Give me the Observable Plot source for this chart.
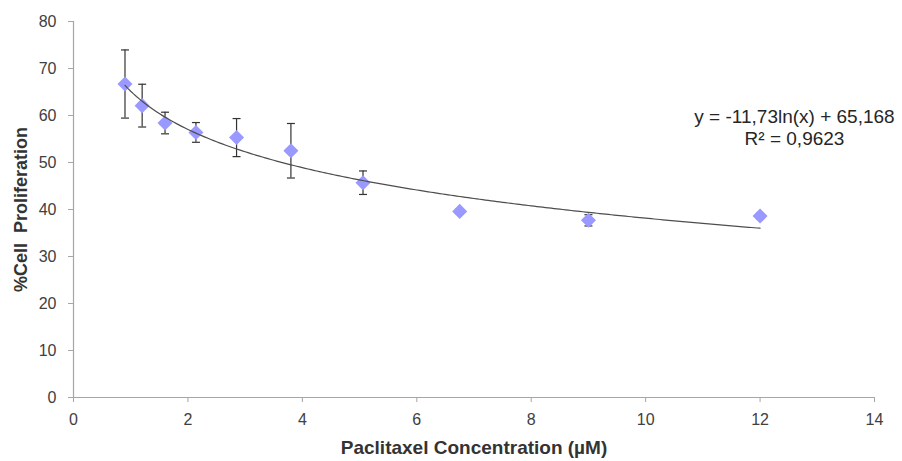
<!DOCTYPE html>
<html>
<head>
<meta charset="utf-8">
<script src="https://cdn.jsdelivr.net/npm/d3@7"></script>
<script src="https://cdn.jsdelivr.net/npm/@observablehq/plot@0.6"></script>
<style>
  html, body { margin: 0; padding: 0; background: #fff; }
</style>
</head>
<body>
<div id="chart"></div>
<script>
// Data
const concentration = [0.9, 1.2, 1.6, 2.14, 2.85, 3.8, 5.06, 6.75, 9, 12];
const proliferation = [66.7, 62.1, 58.4, 56.4, 55.3, 52.5, 45.7, 39.6, 37.7, 38.6];
const errorSD = [7.25, 4.55, 2.3, 2.1, 4.05, 5.8, 2.5, 0.6, 1.2, 0.6];
const xTicks = [0, 2, 4, 6, 8, 10, 12, 14];
const yTicks = [0, 10, 20, 30, 40, 50, 60, 70, 80];
const trendCoef = [-11.73, 65.168]; // y = a ln(x) + b (as printed on chart)
const trendRange = [0.9, 12];
const annotationLines = ["y = -11,73ln(x) + 65,168", "R² = 0,9623"];
const xTitle = "Paclitaxel Concentration (µM)";
const yTitle = "%Cell  Proliferation";

const data = concentration.map((x, i) => ({x, y: proliferation[i], e: errorSD[i]}));
const trend = d3.range(trendRange[0], trendRange[1] + 1e-9, 0.05)
  .concat([trendRange[1]])
  .map(x => ({x, y: trendCoef[0] * Math.log(x) + trendCoef[1]}));

const capSymbol = {
  draw(context, size) {
    const r = Math.sqrt(size / Math.PI);
    context.moveTo(-r, 0);
    context.lineTo(r, 0);
  }
};

const axisGray = "#a6a6a6";
const font = "'Liberation Sans', Arial, sans-serif";

const chart = Plot.plot({
  width: 902,
  height: 461,
  marginLeft: 73,
  marginRight: 28,
  marginTop: 21,
  marginBottom: 64,
  style: {fontFamily: font, fontSize: "16px", background: "#fff", overflow: "visible"},
  x: {domain: [0, 14], ticks: xTicks},
  y: {domain: [0, 80], ticks: yTicks},
  marks: [
    Plot.axisX({ticks: xTicks, tickSize: 5, tickPadding: 11, stroke: axisGray, fill: "#404040", fontSize: 16, label: null}),
    Plot.axisY({ticks: yTicks, tickSize: 5, tickPadding: 12, stroke: axisGray, fill: "#404040", fontSize: 16, label: null}),
    Plot.ruleY([0], {stroke: axisGray, strokeWidth: 1.2}),
    Plot.ruleX([0], {stroke: axisGray, strokeWidth: 1.2}),
    Plot.ruleX(data, {x: "x", y1: d => d.y - d.e, y2: d => d.y + d.e, stroke: "#333", strokeWidth: 1.2}),
    Plot.dot(data, {x: "x", y: d => d.y - d.e, symbol: capSymbol, r: 4, stroke: "#333", strokeWidth: 1.2}),
    Plot.dot(data, {x: "x", y: d => d.y + d.e, symbol: capSymbol, r: 4, stroke: "#333", strokeWidth: 1.2}),
    Plot.dot(data, {x: "x", y: "y", symbol: "square", rotate: 45, r: 6, fill: "#9999ff", stroke: "none"}),
    Plot.line(trend, {x: "x", y: "y", stroke: "#4d4d4d", strokeWidth: 1.2}),
    Plot.text([annotationLines.join("\n")], {
      text: d => d, frameAnchor: "top-right", dx: -80, dy: 85,
      textAnchor: "middle", lineAnchor: "top", lineHeight: 1.2,
      fontSize: 19, fill: "#262626"
    }),
    Plot.text([xTitle], {
      text: d => d, frameAnchor: "bottom", dy: 50, lineAnchor: "middle",
      fontSize: 19, fontWeight: "bold", fill: "#333"
    }),
    Plot.text([yTitle], {
      text: d => d, frameAnchor: "left", dx: -52.5, rotate: -90,
      lineAnchor: "middle", textAnchor: "middle",
      fontSize: 18, fontWeight: "bold", fill: "#333"
    })
  ]
});
document.getElementById("chart").appendChild(chart);
</script>
</body>
</html>
